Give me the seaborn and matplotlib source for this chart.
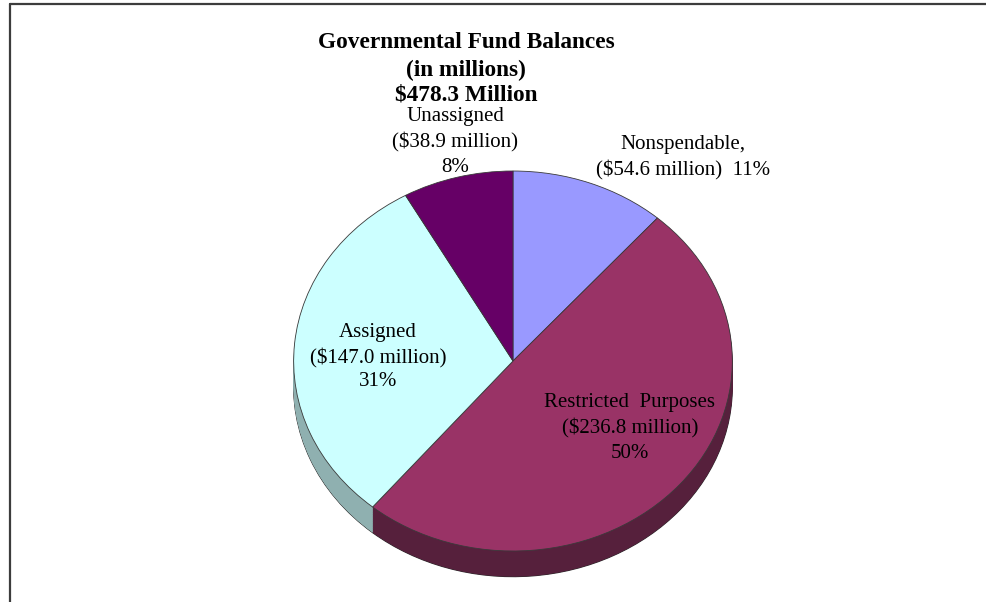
import numpy as np
import matplotlib
matplotlib.use("Agg")
import matplotlib.pyplot as plt
import seaborn as sns
from matplotlib.lines import Line2D

# ---- data ----
categories = ["Nonspendable,", "Restricted  Purposes", "Assigned", "Unassigned"]
values = [54.6, 236.8, 147.0, 38.9]
amount_labels = ["($54.6 million)", "($236.8 million)", "($147.0 million)", "($38.9 million)"]
percents = ["11%", "50%", "31%", "8%"]
title_lines = ["Governmental Fund Balances", "(in millions)", "$478.3 Million"]

top_colors = ["#9999ff", "#993366", "#ccffff", "#660066"]
side_colors = ["#5c5c99", "#56203c", "#8fb0b0", "#3d003d"]

sns.set_theme(style="white")
plt.rcParams["font.family"] = ["Liberation Serif", "DejaVu Serif"]
plt.rcParams["text.color"] = "black"

W, H = 987, 602
fig = plt.figure(figsize=(W / 100, H / 100), dpi=100)
fig.patch.set_facecolor("white")

# frame of chart area
fig.add_artist(Line2D([10.5 / W, 1.0], [1 - 3.5 / H, 1 - 3.5 / H], color="#3c3c3c", lw=1.6,
                      transform=fig.transFigure))
fig.add_artist(Line2D([10.5 / W, 10.5 / W], [1 - 3.5 / H, 0.0], color="#3c3c3c", lw=1.6,
                      transform=fig.transFigure))

# ---- pie (tilted) ----
rx, ry = 220, 190
cx, cy = 513, 361
depth = 0.135
pad = 0.03
ax = fig.add_axes([(cx - rx) / W, (H - (cy + ry * (1 + depth + pad))) / H,
                   2 * rx / W, ry * (2 + depth + pad) / H])

# side walls: stacked layers
ax.pie(values, colors=side_colors, startangle=90, counterclock=False, center=(0, -depth),
       radius=1, wedgeprops=dict(edgecolor="#2a2a2a", linewidth=0.8))
for d in np.linspace(depth, 0.004, 40):
    ax.pie(values, colors=side_colors, startangle=90, counterclock=False, center=(0, -d),
           radius=1, wedgeprops=dict(linewidth=0))
# top face
ax.pie(values, colors=top_colors, startangle=90, counterclock=False, radius=1,
       wedgeprops=dict(edgecolor="#3a3a3a", linewidth=0.6))
ax.set_aspect("auto")
ax.set_xlim(-1.003, 1.003)
ax.set_ylim(-1 - depth - pad, 1.0)
ax.axis("off")

# ---- text ----
def ftext(x, y, s, **kw):
    fig.text(x / W, 1 - y / H, s, ha="center", va="center", color="black", **kw)

fs = 15
tfs = 16.8
ftext(466, 43, title_lines[0], fontsize=tfs, fontweight="bold")
ftext(466, 70, title_lines[1], fontsize=tfs, fontweight="bold")
ftext(466, 95, title_lines[2], fontsize=tfs, fontweight="bold")

# Unassigned
ftext(455, 117, categories[3], fontsize=fs)
ftext(455, 142, amount_labels[3], fontsize=fs)
ftext(455, 167, percents[3], fontsize=fs)
# Nonspendable
ftext(683, 145, categories[0], fontsize=fs)
ftext(683, 170, amount_labels[0] + "  " + percents[0], fontsize=fs)
# Assigned
ftext(378, 333, categories[2], fontsize=fs)
ftext(378, 358, amount_labels[2], fontsize=fs)
ftext(378, 382, percents[2], fontsize=fs)
# Restricted
ftext(630, 403, categories[1], fontsize=fs)
ftext(630, 428, amount_labels[1], fontsize=fs)
ftext(630, 454, percents[1], fontsize=fs)

fig.savefig("out.png", dpi=100, facecolor="white")
